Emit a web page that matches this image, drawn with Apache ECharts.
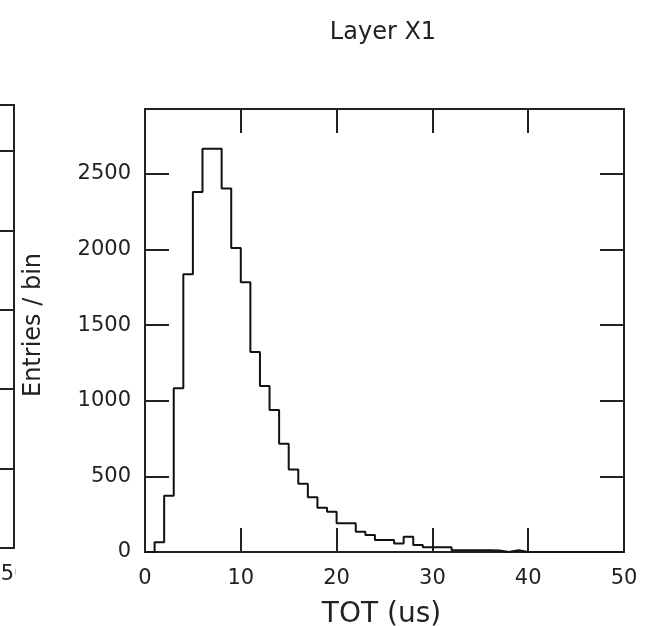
<!DOCTYPE html>
<html>
<head>
<meta charset="utf-8">
<script src="https://cdn.jsdelivr.net/npm/echarts@6/dist/echarts.min.js"></script>
<style>
html,body{margin:0;padding:0;background:#fff;}
#chart{width:654px;height:626px;}
</style>
</head>
<body>
<div id="chart"></div>
<script>
// Histogram "Layer X1": TOT (us), bins of width 1 starting at 0
const binEdges = [0,1,2,3,4,5,6,7,8,9,10,11,12,13,14,15,16,17,18,19,20,21,22,23,24,25,26,27,28,29,30,31,32,33,34,35,36,37,38,39,40,41,42,43,44,45,46,47,48,49];
const counts = [0,64,372,1083,1837,2381,2667,2667,2405,2011,1784,1323,1098,939,716,545,452,362,293,267,190,190,134,112,79,79,57,101,46,31,31,31,12,12,11,12,10,0,12,0,0,0,0,0,0,0,0,0,0,0];
const xTicks = [0,10,20,30,40,50];
const yTicks = [0,500,1000,1500,2000,2500];
const titleText = 'Layer X1';
const xName = 'TOT (us)';
const yName = 'Entries / bin';
// neighbouring panel (only its right edge is visible)
const leftPanelXTicks = [50];

const seriesData = binEdges.map((e,i)=>[e, counts[i]]);
seriesData.push([50, 0]);

const font = 'DejaVu Sans';
const ink = '#222';
const chart = echarts.init(document.getElementById('chart'), null, {renderer:'canvas'});

const tickCommon = {show:true, inside:true, length:24, lineStyle:{color:ink, width:2}};
const noLine = {show:false, onZero:false};
const frameLine = {show:true, onZero:false, lineStyle:{color:ink, width:2}};

chart.setOption({
  animation:false,
  backgroundColor:'#fff',
  title:{text:titleText, left:378, textAlign:'center', top:16,
    textStyle:{fontFamily:font, fontSize:24, fontWeight:'normal', color:ink}},
  grid:[
    {left:145, top:109, width:479, height:443, show:true, borderColor:ink, borderWidth:2,
      backgroundColor:'transparent', outerBoundsMode:'none', containLabel:false},
    {left:0, top:105, width:14, height:443, show:false, outerBoundsMode:'none', containLabel:false}
  ],
  xAxis:[
    {gridIndex:0, type:'value', min:0, max:50, interval:10, position:'bottom',
      axisLine:noLine, splitLine:{show:false}, axisTick:tickCommon,
      axisLabel:{margin:16, fontFamily:font, fontSize:21, color:ink,
        formatter:function(v){return xTicks.indexOf(v)>=0 ? String(v) : '';}},
      name:xName, nameLocation:'middle', nameGap:49,
      nameTextStyle:{fontFamily:font, fontSize:28, color:ink, padding:[0,6,0,0]}},
    {gridIndex:0, type:'value', min:0, max:50, interval:10, position:'top',
      axisLine:noLine, splitLine:{show:false}, axisTick:tickCommon, axisLabel:{show:false}},
    {gridIndex:1, type:'value', min:48.5, max:50, interval:0.5, position:'bottom',
      axisLine:frameLine, splitLine:{show:false}, axisTick:{show:false},
      axisLabel:{margin:16, fontFamily:font, fontSize:21, color:ink, showMinLabel:false,
        formatter:function(v){return leftPanelXTicks.indexOf(v)>=0 ? String(v) : '';}}},
    {gridIndex:1, type:'value', min:48.5, max:50, interval:0.5, position:'top',
      axisLine:frameLine, splitLine:{show:false}, axisTick:{show:false}, axisLabel:{show:false}}
  ],
  yAxis:[
    {gridIndex:0, type:'value', min:0, max:2930, interval:500, position:'left',
      axisLine:noLine, splitLine:{show:false}, axisTick:tickCommon,
      axisLabel:{margin:14, fontFamily:font, fontSize:21, color:ink, showMaxLabel:false,
        formatter:function(v){return yTicks.indexOf(v)>=0 ? String(v) : '';}},
      name:yName, nameLocation:'middle', nameGap:99,
      nameTextStyle:{fontFamily:font, fontSize:24, color:ink, padding:[0,0,0,11]}},
    {gridIndex:0, type:'value', min:0, max:2930, interval:500, position:'right',
      axisLine:noLine, splitLine:{show:false}, axisTick:tickCommon, axisLabel:{show:false}},
    {gridIndex:1, type:'value', min:0, max:2790, interval:500, position:'right',
      axisLine:frameLine, splitLine:{show:false}, axisTick:tickCommon, axisLabel:{show:false}}
  ],
  graphic:[
    {type:'rect', shape:{x:15.5, y:558, width:22, height:34}, style:{fill:'#fff'}, z:100}
  ],
  series:[
    {type:'line', xAxisIndex:0, yAxisIndex:0, data:seriesData, step:'end',
      symbol:'none', lineStyle:{color:'#111', width:2}, clip:true}
  ]
});
</script>
</body>
</html>
